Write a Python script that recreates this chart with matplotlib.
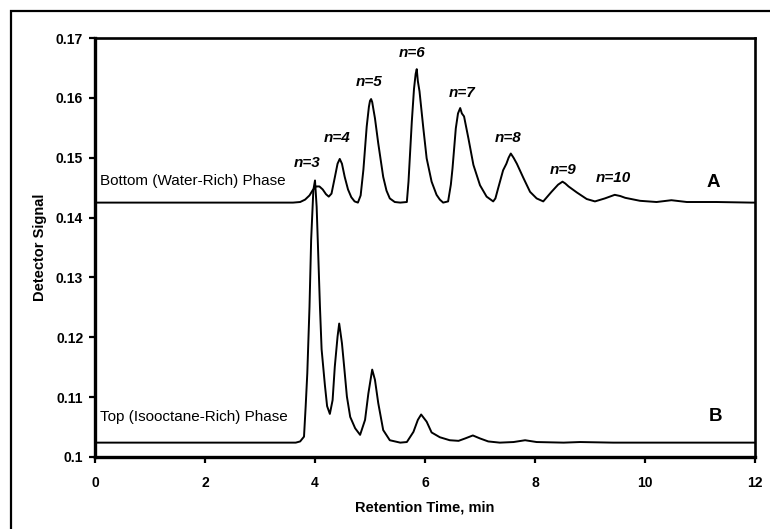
import matplotlib
matplotlib.use("Agg")
import matplotlib.pyplot as plt
from matplotlib.patches import Rectangle

plt.rcParams['font.family'] = ['Liberation Sans', 'DejaVu Sans']

# ---- data ----
time_a = [0.0, 1.0, 2.0, 3.0, 3.6, 3.73, 3.82, 3.90, 3.96, 4.02, 4.08, 4.14, 4.20, 4.25,
          4.30, 4.36, 4.41, 4.45, 4.49, 4.54, 4.60, 4.66, 4.72, 4.78, 4.83, 4.88, 4.94,
          4.98, 5.00, 5.02, 5.04, 5.06, 5.09, 5.15, 5.24, 5.30, 5.36, 5.45, 5.55, 5.67,
          5.70, 5.73, 5.76, 5.80, 5.83, 5.85, 5.87, 5.90, 5.97, 6.03, 6.12, 6.21, 6.27,
          6.33, 6.42, 6.47, 6.50, 6.56, 6.60, 6.64, 6.67, 6.71, 6.79, 6.88, 7.00, 7.12,
          7.24, 7.28, 7.33, 7.42, 7.48, 7.52, 7.56, 7.61, 7.67, 7.79, 7.91, 8.03, 8.15,
          8.30, 8.42, 8.50, 8.55, 8.61, 8.76, 8.94, 9.09, 9.27, 9.45, 9.55, 9.64, 9.91,
          10.21, 10.48, 10.76, 11.30, 11.94, 12.0]
signal_a = [0.1425, 0.1425, 0.1425, 0.1425, 0.1425, 0.1426, 0.1430, 0.1437, 0.1446, 0.1452,
            0.1452, 0.1447, 0.1439, 0.1435, 0.1440, 0.1467, 0.1490, 0.1498, 0.1490, 0.1468,
            0.1447, 0.1434, 0.1427, 0.1425, 0.1437, 0.1480, 0.1552, 0.1585, 0.1595, 0.1598,
            0.1593, 0.1582, 0.1566, 0.1524, 0.1468, 0.1445, 0.1432, 0.1426, 0.1425, 0.1426,
            0.1460, 0.1510, 0.1560, 0.1615, 0.1640, 0.1648, 0.1628, 0.1611, 0.1549, 0.1499,
            0.1460, 0.1438, 0.1430, 0.1425, 0.1427, 0.1455, 0.1482, 0.1549, 0.1574, 0.1583,
            0.1574, 0.1569, 0.1532, 0.1488, 0.1454, 0.1435, 0.1427, 0.1432, 0.1449, 0.1479,
            0.1490, 0.1500, 0.1507, 0.1500, 0.1490, 0.1466, 0.1443, 0.1432, 0.1427, 0.1443,
            0.1455, 0.1460, 0.1457, 0.1452, 0.1442, 0.1431, 0.1427, 0.1432, 0.1438, 0.1436,
            0.1433, 0.1428, 0.1426, 0.1429, 0.1426, 0.1426, 0.1425, 0.1425]

time_b = [0.0, 1.0, 2.0, 3.0, 3.65, 3.73, 3.80, 3.83, 3.86, 3.90, 3.93, 3.97, 4.00, 4.03,
          4.05, 4.09, 4.12, 4.18, 4.22, 4.27, 4.32, 4.36, 4.41, 4.44, 4.46, 4.49, 4.53,
          4.58, 4.64, 4.73, 4.82, 4.91, 4.97, 5.04, 5.09, 5.15, 5.24, 5.36, 5.55, 5.67,
          5.79, 5.87, 5.93, 6.03, 6.12, 6.27, 6.45, 6.61, 6.73, 6.87, 7.00, 7.15, 7.36,
          7.61, 7.82, 8.03, 8.52, 8.82, 9.42, 10.6, 11.94, 12.0]
signal_b = [0.1024, 0.1024, 0.1024, 0.1024, 0.1024, 0.1026, 0.1034, 0.1084, 0.1140, 0.1251,
            0.1363, 0.1446, 0.1462, 0.1418, 0.1363, 0.1251, 0.1180, 0.1120, 0.1085, 0.1072,
            0.1095, 0.1151, 0.1201, 0.1223, 0.1210, 0.1190, 0.1151, 0.1101, 0.1067, 0.1048,
            0.1037, 0.1062, 0.1106, 0.1146, 0.1129, 0.1090, 0.1045, 0.1028, 0.1024, 0.1025,
            0.1042, 0.1062, 0.1071, 0.1059, 0.1041, 0.1033, 0.1028, 0.1027, 0.1031, 0.1036,
            0.1031, 0.1026, 0.1024, 0.1025, 0.1028, 0.1025, 0.1024, 0.1025, 0.1024, 0.1024,
            0.1024, 0.1024]

peak_labels = ['n=3', 'n=4', 'n=5', 'n=6', 'n=7', 'n=8', 'n=9', 'n=10']
peak_label_t = [3.86, 4.41, 4.98, 5.76, 6.67, 7.51, 8.51, 9.42]
peak_label_y = [0.1491, 0.1533, 0.1627, 0.1675, 0.1608, 0.1533, 0.1479, 0.1466]

x_ticks = [0, 2, 4, 6, 8, 10, 12]
y_ticks = [0.1, 0.11, 0.12, 0.13, 0.14, 0.15, 0.16, 0.17]
y_tick_labels = ['0.1', '0.11', '0.12', '0.13', '0.14', '0.15', '0.16', '0.17']

# ---- figure ----
W, H = 770, 529
fig = plt.figure(figsize=(W / 100, H / 100), dpi=100)
fig.patch.set_facecolor('white')

# outer frame (only the top and left edges fall inside the image)
fig.patches.append(Rectangle((10.5 / W, -0.2), 1.5, 1.2 - 10.5 / H,
                             transform=fig.transFigure, fill=False,
                             edgecolor='black', linewidth=1.6))

ax = fig.add_axes([95 / W, 1 - 457 / H, 660 / W, 419 / H])
ax.plot(time_a, signal_a, color='black', linewidth=1.4)
ax.plot(time_b, signal_b, color='black', linewidth=1.4)

ax.set_xlim(0, 12)
ax.set_ylim(0.1, 0.17)
ax.set_xticks(x_ticks)
ax.set_xticklabels([str(v) for v in x_ticks])
ax.set_yticks(y_ticks)
ax.set_yticklabels(y_tick_labels)

for side in ['left', 'bottom']:
    ax.spines[side].set_linewidth(2.4)
for side in ['top', 'right']:
    ax.spines[side].set_linewidth(1.9)

ax.tick_params(axis='both', direction='out', width=1.6, length=4.5,
               labelsize=10)
ax.tick_params(axis='x', pad=9)
ax.tick_params(axis='y', pad=4)
for lab in ax.get_xticklabels() + ax.get_yticklabels():
    lab.set_fontweight('bold')

ax.set_xlabel('Retention Time, min', fontsize=10.5, fontweight='bold', labelpad=8)
ax.set_ylabel('Detector Signal', fontsize=10.5, fontweight='bold')
ax.yaxis.set_label_coords(-0.073, 0.5)

# annotations
ax.text(0.09, 0.1461, 'Bottom (Water-Rich) Phase', fontsize=11, ha='left', va='center')
ax.text(0.09, 0.1066, 'Top (Isooctane-Rich) Phase', fontsize=11, ha='left', va='center')
ax.text(11.24, 0.1458, 'A', fontsize=13.5, fontweight='bold', ha='center', va='center')
ax.text(11.29, 0.1067, 'B', fontsize=13.5, fontweight='bold', ha='center', va='center')
for lab, t, y in zip(peak_labels, peak_label_t, peak_label_y):
    ax.text(t, y, lab, fontsize=11, fontweight='bold', fontstyle='italic',
            ha='center', va='center')

fig.savefig('out.png', dpi=100)
